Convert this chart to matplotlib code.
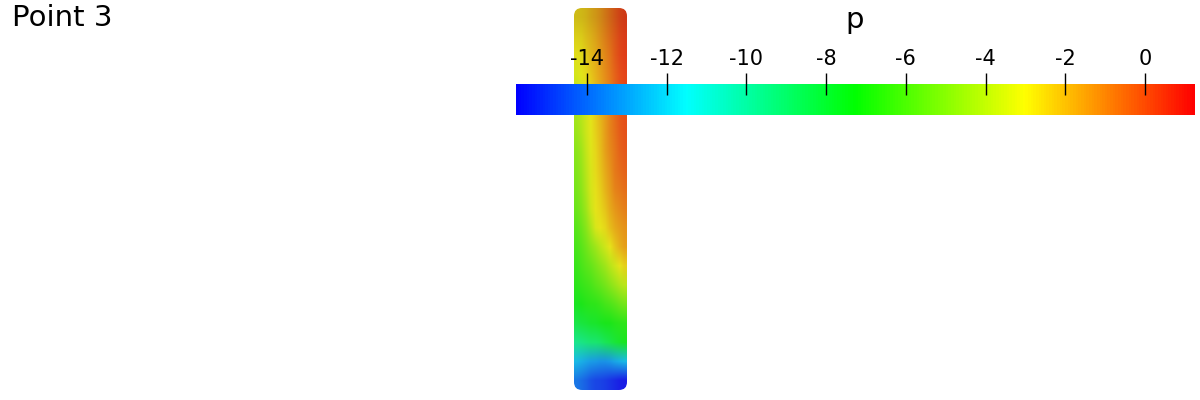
import numpy as np
import matplotlib
matplotlib.use("Agg")
from matplotlib import pyplot as plt
from matplotlib.colors import LinearSegmentedColormap, Normalize
from matplotlib.cm import ScalarMappable
from matplotlib.patches import FancyBboxPatch

# colour scale of the field "p"
p_min, p_max = -15.78, 1.25
cbar_ticks = [-14, -12, -10, -8, -6, -4, -2, 0]
cmap_colors = ["#0000ff", "#00ffff", "#00ff00", "#ffff00", "#ff0000"]

p_field = np.array([
    [-2.6, -2.5, -2.3, -2.0, -1.7, -1.4, -1.0, -0.6, -0.2, 0.2, 0.4],
    [-2.8, -2.7, -2.4, -2.1, -1.8, -1.4, -1.0, -0.6, -0.2, 0.2, 0.4],
    [-3.0, -2.9, -2.6, -2.2, -1.9, -1.5, -1.1, -0.7, -0.2, 0.2, 0.4],
    [-3.4, -3.1, -2.8, -2.4, -2.0, -1.6, -1.2, -0.8, -0.3, 0.1, 0.3],
    [-3.8, -3.5, -3.1, -2.7, -2.2, -1.8, -1.3, -0.9, -0.4, 0.0, 0.2],
    [-4.3, -4.0, -3.5, -3.0, -2.5, -2.0, -1.5, -1.0, -0.5, -0.1, 0.1],
    [-4.6, -4.2, -3.6, -3.1, -2.6, -2.1, -1.5, -1.0, -0.6, -0.2, 0.0],
    [-4.9, -4.5, -3.8, -3.2, -2.7, -2.2, -1.6, -1.1, -0.7, -0.3, -0.1],
    [-5.1, -4.7, -4.0, -3.3, -2.8, -2.3, -1.8, -1.3, -0.8, -0.5, -0.3],
    [-5.3, -4.9, -4.2, -3.4, -2.9, -2.5, -2.0, -1.5, -1.0, -0.8, -0.6],
    [-5.6, -5.2, -4.5, -3.6, -3.0, -2.7, -2.3, -1.8, -1.4, -1.1, -0.9],
    [-6.0, -5.6, -5.0, -4.2, -3.3, -3.0, -2.7, -2.2, -1.8, -1.5, -1.3],
    [-6.3, -6.0, -5.5, -5.0, -4.5, -4.0, -3.5, -3.0, -2.4, -1.9, -1.6],
    [-6.6, -6.3, -6.0, -5.7, -5.3, -4.9, -4.5, -4.0, -3.5, -3.0, -2.6],
    [-6.9, -6.7, -6.5, -6.3, -6.0, -5.7, -5.4, -5.0, -4.6, -4.2, -3.9],
    [-7.4, -7.2, -7.0, -6.9, -6.8, -6.6, -6.4, -6.2, -5.9, -5.6, -5.4],
    [-8.2, -8.0, -7.9, -7.7, -7.6, -7.4, -7.3, -7.2, -7.0, -6.9, -6.8],
    [-9.6, -9.5, -9.3, -9.1, -9.0, -8.8, -8.5, -8.2, -7.9, -7.6, -7.4],
    [-12.4, -12.6, -12.8, -13.0, -13.1, -13.2, -13.2, -13.1, -12.8, -12.6, -12.4],
    [-13.8, -14.0, -14.3, -14.6, -14.8, -14.9, -15.0, -15.2, -15.4, -15.6, -15.7],
])

title_text = "Point 3"
field_name = "p"

cmap = LinearSegmentedColormap.from_list("rainbow_p", cmap_colors)
norm = Normalize(vmin=p_min, vmax=p_max)

fig = plt.figure(figsize=(12, 4), dpi=100)
ax = fig.add_axes([0, 0, 1, 1])
ax.set_xlim(0, 1200)
ax.set_ylim(400, 0)
ax.axis("off")

# shaded surface colours (a bit of lighting like the 3d view, darker at the top)
rgb = cmap(norm(p_field))[..., :3]
rgb = rgb * 0.8 + 0.1
light = np.ones(len(p_field))
light[:3] = [0.9, 0.95, 0.98]
rgb = rgb * light[:, None, None]
blade = ax.imshow(rgb, extent=(574, 627, 390, 8), interpolation="bilinear",
                  aspect="auto", zorder=1)
outline = FancyBboxPatch((574, 8), 53, 382, boxstyle="round,pad=0,rounding_size=8",
                         facecolor="none", edgecolor="none", transform=ax.transData)
ax.add_patch(outline)
blade.set_clip_path(outline)

ax.text(12, 18, title_text, fontsize=21, va="center", ha="left")

# colour bar
cax = fig.add_axes([516 / 1200, 1 - 115 / 400, 679 / 1200, 31 / 400])
cb = fig.colorbar(ScalarMappable(norm=norm, cmap=cmap), cax=cax,
                  orientation="horizontal", ticks=cbar_ticks)
cb.outline.set_visible(False)
cax.xaxis.set_ticks_position("top")
cax.xaxis.set_label_position("top")
cax.tick_params(axis="x", direction="inout", length=16, width=1, color="black",
                labelsize=15, pad=3)
cb.set_ticklabels([str(t) for t in cbar_ticks])
fig.text(855 / 1200, 1 - 20 / 400, field_name, fontsize=21, ha="center", va="center")

plt.savefig("out.png", dpi=100)
